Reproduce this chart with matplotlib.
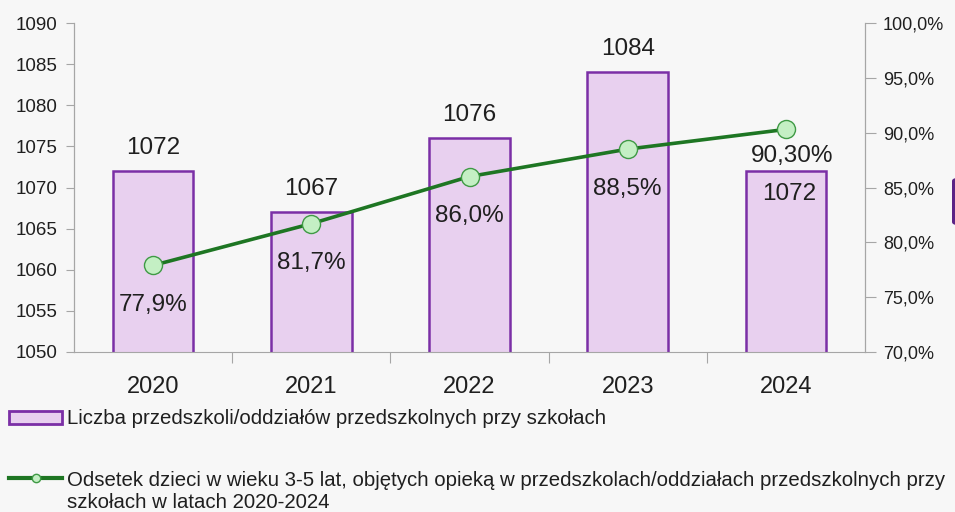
import matplotlib.pyplot as plt
import matplotlib.patches as mpatches
from matplotlib.lines import Line2D
from matplotlib.ticker import FuncFormatter, MultipleLocator

lata = ['2020', '2021', '2022', '2023', '2024']
liczba_placowek = [1072, 1067, 1076, 1084, 1072]
odsetek = [77.9, 81.7, 86.0, 88.5, 90.3]
etykiety_odsetek = ['77,9%', '81,7%', '86,0%', '88,5%', '90,30%']

etykieta_slupki = 'Liczba przedszkoli/oddziałów przedszkolnych przy szkołach'
etykieta_linia = 'Odsetek dzieci w wieku 3-5 lat, objętych opieką w przedszkolach/oddziałach przedszkolnych przy'
etykieta_linia_cd = 'szkołach w latach 2020-2024'

tlo = '#f7f7f7'
fiolet = '#7b2fa6'
fiolet_jasny = '#e8d0ef'
zielony = '#1e7623'
zielony_jasny = '#c4efc4'
szary = '#a6a6a6'
tekst = '#1f1f1f'

plt.rcParams['font.family'] = ['Liberation Sans', 'DejaVu Sans']

W, H = 955, 512
fig = plt.figure(figsize=(W / 100, H / 100), dpi=100, facecolor=tlo)
ax = fig.add_axes([74 / W, 160 / H, 791 / W, 329 / H])
ax.set_facecolor(tlo)

x = list(range(len(lata)))
ax.bar(x, liczba_placowek, width=0.51, bottom=0, color=fiolet_jasny,
       edgecolor=fiolet, linewidth=1.8, zorder=2)
ax.set_ylim(1050, 1090)
ax.set_xlim(-0.5, len(lata) - 0.5)
ax.yaxis.set_major_locator(MultipleLocator(5))

# etykiety wartości słupków
for i, v in enumerate(liczba_placowek):
    if i == len(lata) - 1:
        ax.text(i + 0.02, v - 1.5, str(v), ha='center', va='top', fontsize=17.5, color=tekst, zorder=5)
    else:
        ax.text(i, v + 1.5, str(v), ha='center', va='bottom', fontsize=17.5, color=tekst, zorder=5)

ax2 = ax.twinx()
ax2.plot(x, odsetek, color=zielony, linewidth=2.6, marker='o', markersize=13,
         markerfacecolor=zielony_jasny, markeredgecolor='#3f9a45', markeredgewidth=1, zorder=4)
ax2.set_ylim(70, 100)
ax2.yaxis.set_major_locator(MultipleLocator(5))
ax2.yaxis.set_major_formatter(FuncFormatter(lambda v, p: f'{v:.1f}%'.replace('.', ',')))

for i, (v, s) in enumerate(zip(odsetek, etykiety_odsetek)):
    if i == len(lata) - 1:
        ax2.text(i + 0.04, v - 1.45, s, ha='center', va='top', fontsize=17.5, color=tekst, zorder=5)
    else:
        ax2.text(i, v - 2.6, s, ha='center', va='top', fontsize=17.5, color=tekst, zorder=5)

# osie
for a in (ax, ax2):
    a.spines['top'].set_visible(False)
    a.spines['left'].set_color(szary)
    a.spines['right'].set_color(szary)
    a.spines['bottom'].set_color(szary)
ax2.spines['bottom'].set_visible(False)

ax.tick_params(axis='y', colors=szary, labelcolor=tekst, labelsize=13.5, length=6, pad=6)
ax2.tick_params(axis='y', colors=szary, labelcolor=tekst, labelsize=13, length=8, pad=5)

ax.set_xticks([i + 0.5 for i in x[:-1]])
ax.set_xticklabels([])
ax.set_xticks(x, minor=True)
ax.set_xticklabels(lata, minor=True)
ax.tick_params(axis='x', which='major', colors=szary, length=8)
ax.tick_params(axis='x', which='minor', length=0, labelsize=17, labelcolor=tekst, pad=17)

# legenda
fs = 14.7
uchwyt_slupki = mpatches.Patch(facecolor=fiolet_jasny, edgecolor=fiolet, linewidth=2)
uchwyt_linia = Line2D([], [], color=zielony, linewidth=3, marker='o', markersize=6,
                      markerfacecolor=zielony_jasny, markeredgecolor='#3f9a45')
leg1 = fig.legend([uchwyt_slupki], [etykieta_slupki], loc='center left',
                  bbox_to_anchor=(9 / W, 1 - 419 / H), frameon=False,
                  fontsize=fs, handlelength=2.6, handleheight=0.6, handletextpad=0.24,
                  borderaxespad=0, borderpad=0)
leg2 = fig.legend([uchwyt_linia], [etykieta_linia], loc='center left',
                  bbox_to_anchor=(9 / W, 1 - 480 / H), frameon=False,
                  fontsize=fs, handlelength=2.6, handletextpad=0.24,
                  borderaxespad=0, borderpad=0)
for t in leg1.get_texts() + leg2.get_texts():
    t.set_color(tekst)
fig.text(67 / W, 1 - 503 / H, etykieta_linia_cd, ha='left', va='center', fontsize=fs, color=tekst)

# fragment sąsiedniego elementu przy prawej krawędzi
fig.patches.append(mpatches.FancyBboxPatch((952 / W, 1 - 225 / H), 10 / W, 47 / H,
                                           boxstyle='round,pad=0,rounding_size=0.006',
                                           transform=fig.transFigure, facecolor='#5b2385',
                                           edgecolor='none'))

fig.savefig('out.png', dpi=100, facecolor=tlo)
